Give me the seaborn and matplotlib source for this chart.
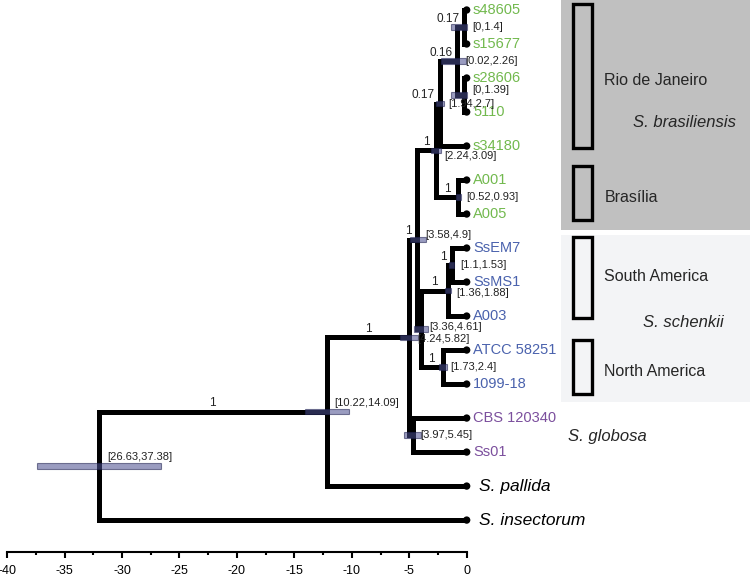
import numpy as np
import pandas as pd
import matplotlib
matplotlib.use("Agg")
import matplotlib.pyplot as plt
from matplotlib.patches import Rectangle
import seaborn as sns

# tips, top to bottom
leaf_names = ["s48605", "s15677", "s28606", "5110", "s34180", "A001", "A005",
              "SsEM7", "SsMS1", "A003", "ATCC 58251", "1099-18",
              "CBS 120340", "Ss01", "S. pallida", "S. insectorum"]
leaf_group = ["bras"] * 7 + ["sche"] * 5 + ["glob"] * 2 + ["out"] * 2

# internal nodes: children, age (Mya, negative), posterior, 95% HPD
node_names = ["N", "O", "M", "L", "K", "E", "J", "H", "I", "F", "D", "G", "B", "A", "R"]
node_children = [("s48605", "s15677"), ("s28606", "5110"), ("N", "O"), ("M", "s34180"),
                 ("A001", "A005"), ("L", "K"), ("SsEM7", "SsMS1"), ("J", "A003"),
                 ("ATCC 58251", "1099-18"), ("H", "I"), ("E", "F"),
                 ("CBS 120340", "Ss01"), ("D", "G"), ("B", "S. pallida"),
                 ("A", "S. insectorum")]
node_age = [-0.2, -0.2, -0.8, -2.3, -0.72, -2.65, -1.3, -1.6, -2.1, -4.0, -4.3,
            -4.7, -5.0, -12.2, -32.0]
node_post = [0.17, None, 0.16, 0.17, 1, 1, 1, 1, 1, None, 1, None, 1, 1, None]
hpd_low = [0, 0, 0.02, 1.94, 0.52, 2.24, 1.1, 1.36, 1.73, 3.36, 3.58, 3.97, 4.24, 10.22, 26.63]
hpd_high = [1.4, 1.39, 2.26, 2.7, 0.93, 3.09, 1.53, 1.88, 2.4, 4.61, 4.9, 5.45, 5.82, 14.09, 37.38]

x_ticks = list(range(-40, 1, 5))

group_color = {"bras": "#72b94e", "sche": "#4a62ad", "glob": "#7b4f9d", "out": "black"}

# ---- layout of the tree
pos = {n: (0.0, float(i)) for i, n in enumerate(leaf_names)}
parent = {}
for name, kids, age in zip(node_names, node_children, node_age):
    ys = [pos[k][1] for k in kids]
    pos[name] = (age, float(np.mean(ys)))
    for k in kids:
        parent[k] = name

rows = []
for name, kids in zip(node_names, node_children):
    nx = pos[name][0]
    (x1, y1), (x2, y2) = pos[kids[0]], pos[kids[1]]
    for px, py in [(x1, y1), (nx, y1), (nx, y2), (x2, y2)]:
        rows.append({"branch": name, "x": px, "y": py})
branches = pd.DataFrame(rows)

sns.set_theme(style="white")
plt.rcParams["font.family"] = ["Liberation Sans", "DejaVu Sans"]
plt.rcParams["axes.unicode_minus"] = False

fig = plt.figure(figsize=(7.5, 5.76), dpi=100)
ax = fig.add_axes([0, 24.3 / 576, 1, 551.7 / 576])
ax.set_xlim(-40.62, 24.66)
ax.set_ylim(15.93, -0.294)

# background panels for the clades
ax.add_patch(Rectangle((8.21, -0.5), 20, 6.97, facecolor="#c0c0c0", edgecolor="none", zorder=0))
ax.add_patch(Rectangle((8.21, 6.62), 20, 4.9, facecolor="#f3f4f6", edgecolor="none", zorder=0))
regions = [("Rio de Janeiro", -0.18, 4.06, 2.06), ("Brasília", 4.58, 6.18, 5.5),
           ("South America", 6.69, 9.07, 7.85), ("North America", 9.7, 11.3, 10.64)]
for label, y0, y1, ty in regions:
    ax.add_patch(Rectangle((9.28, y0), 1.6, y1 - y0, facecolor="none",
                           edgecolor="black", linewidth=2.4, zorder=1))
    ax.text(11.98, ty, label, fontsize=11.5, va="center", ha="left")
ax.text(14.45, 3.32, "S. brasiliensis", fontsize=12, style="italic", va="center")
ax.text(15.32, 9.2, "S. schenkii", fontsize=12, style="italic", va="center")
ax.text(8.82, 12.55, "S. globosa", fontsize=12, style="italic", va="center")

# branches
sns.lineplot(data=branches, x="x", y="y", units="branch", estimator=None, sort=False,
             color="black", linewidth=3.6, ax=ax, legend=False,
             solid_joinstyle="miter", solid_capstyle="butt", zorder=2)

# tips
tips = pd.DataFrame({"x": [pos[n][0] for n in leaf_names],
                     "y": [pos[n][1] for n in leaf_names]})
sns.scatterplot(data=tips, x="x", y="y", color="black", s=28, edgecolor="none",
                ax=ax, zorder=3, legend=False)
for name, grp in zip(leaf_names, leaf_group):
    if grp == "out":
        ax.text(1.1, pos[name][1], name, fontsize=12.5, style="italic",
                va="center", ha="left", color="black")
    else:
        ax.text(0.55, pos[name][1], name, fontsize=10.5, va="center",
                ha="left", color=group_color[grp])

# HPD bars (translucent, drawn over the branches)
node_y = [pos[n][1] for n in node_names]
ax.barh(node_y, [h - l for l, h in zip(hpd_low, hpd_high)], left=[-h for h in hpd_high],
        height=0.16, color="#4b4f8f", alpha=0.56, edgecolor="#1f2150", linewidth=0.8,
        zorder=4)

hpd_nudge = {"R": -0.27, "A": -0.27, "D": -0.12, "E": 0.18, "O": -0.14,
             "L": 0.0, "H": 0.08, "F": -0.05, "B": 0.05}
for name, lo, hi in zip(node_names, hpd_low, hpd_high):
    nx, ny = pos[name]
    ax.text(nx + 0.7, ny + hpd_nudge.get(name, 0), f"[{lo:g},{hi:g}]",
            fontsize=8, va="center", ha="left", color="#222222", zorder=5)

# posterior support on the branch leading to each node
for name, post in zip(node_names, node_post):
    if post is None:
        continue
    nx, ny = pos[name]
    px = pos[parent[name]][0]
    if nx - px < 1.6:
        ax.text(nx - 0.45, ny - 0.16, f"{post:g}", fontsize=8.5, ha="right",
                va="baseline", color="#222222", zorder=5)
    else:
        ax.text((nx + px) / 2, ny - 0.16, f"{post:g}", fontsize=8.5, ha="center",
                va="baseline", color="#222222", zorder=5)

# time axis
for s in ["top", "left", "right"]:
    ax.spines[s].set_visible(False)
ax.spines["bottom"].set_bounds(-40, 0)
ax.spines["bottom"].set_linewidth(1.5)
ax.spines["bottom"].set_color("black")
ax.set_xticks(x_ticks)
ax.set_xticks(np.arange(-37.5, 0, 5), minor=True)
ax.set_xticklabels([str(t) for t in x_ticks])
ax.tick_params(axis="x", which="major", direction="out", length=4.5, width=1.5,
               pad=5, labelsize=9, bottom=True, colors="black")
ax.tick_params(axis="x", which="minor", direction="out", length=2.5, width=1.5,
               bottom=True, colors="black")
ax.set_yticks([])
ax.set_xlabel("")
ax.set_ylabel("")

fig.savefig("out.png", dpi=100)
